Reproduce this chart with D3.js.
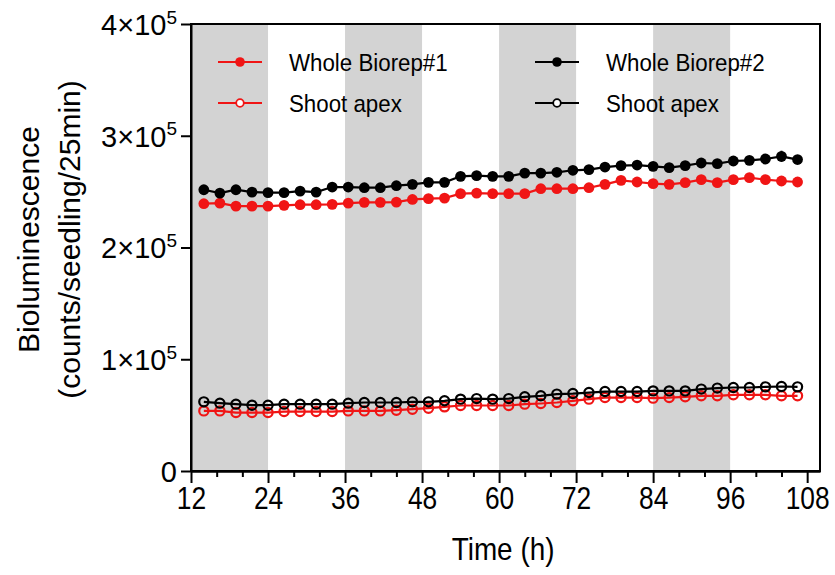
<!DOCTYPE html>
<meta charset="utf-8">
<style>
body { margin: 0; background: #fff; }
svg text { font-family: "Liberation Sans", Arial, sans-serif; fill: #000; }
.axis path, .axis line { stroke: #000; stroke-width: 2px; }
</style>
<body>
<script src="https://cdn.jsdelivr.net/npm/d3@7"></script>
<script>

// time points (h), one every 2.5 h
var times = d3.range(38).map(function(i) { return 14 + 2.5 * i; });

// whole seedling, biorep #1 (red, filled)
var whole1 = [239.2, 239.7, 237.0, 237.0, 237.0, 237.7, 238.3, 238.3, 238.6, 239.7,
              240.4, 240.4, 240.6, 243.0, 243.7, 244.2, 248.2, 248.7, 248.2, 248.2,
              248.2, 252.6, 252.6, 252.6, 253.5, 256.5, 260.1, 258.6, 257.1, 256.5,
              258.0, 260.7, 258.0, 260.7, 262.5, 260.7, 259.5, 258.6];
var whole1Err = [1, 1, 1, 1, 1, 1, 1, 1, 1, 1, 1.5, 1.5, 1.5, 1.5, 2, 2, 2, 2, 2, 2,
                 2.5, 3, 3, 3, 3, 3.5, 3.5, 3.5, 3, 3.5, 3.5, 4, 3.5, 4, 4, 4, 3.5, 3.5];

// whole seedling, biorep #2 (black, filled)
var whole2 = [251.7, 248.7, 251.7, 249.6, 249.1, 249.1, 250.5, 249.6, 254.1, 254.1,
              253.5, 253.5, 255.3, 256.5, 258.3, 258.3, 263.7, 264.3, 263.7, 263.7,
              266.6, 266.6, 267.3, 269.1, 269.7, 272.0, 273.3, 273.8, 272.6, 271.5,
              273.3, 275.6, 275.1, 277.4, 278.0, 279.2, 281.6, 278.7];
var whole2Err = [1, 1, 1, 1, 1, 1, 1, 1, 1, 1, 1, 1, 1.5, 1.5, 1.5, 1.5, 2, 2, 2, 2,
                 2, 2, 2, 2, 2.5, 2.5, 2.5, 3, 3, 3, 3, 3.5, 3.5, 3.5, 3.5, 4, 5, 4];

// shoot apex, biorep #1 (red, open)
var apex1 = [53.8, 53.8, 52.3, 52.3, 52.3, 53.2, 53.2, 53.2, 53.2, 53.8,
             53.8, 53.8, 54.4, 55.3, 56.2, 57.4, 58.6, 58.6, 58.6, 58.6,
             59.8, 60.4, 61.3, 62.8, 64.3, 65.7, 65.7, 65.7, 65.2, 65.7,
             66.4, 67.3, 67.3, 68.2, 68.2, 68.2, 67.3, 67.3];

// shoot apex, biorep #2 (black, open)
var apex2 = [61.9, 60.7, 59.8, 58.9, 58.9, 59.8, 59.8, 59.8, 59.8, 60.7,
             61.3, 61.3, 61.3, 61.9, 61.9, 62.8, 64.3, 64.8, 64.3, 64.8,
             66.4, 67.3, 68.8, 69.3, 70.2, 71.1, 71.1, 71.1, 71.7, 71.7,
             71.7, 73.3, 74.2, 74.7, 74.7, 75.3, 75.6, 75.3];

// dark periods (h)
var darkStart = [12, 36, 60, 84];
var darkLen = 12;

var xTicks = [12, 24, 36, 48, 60, 72, 84, 96, 108];
var yTicks = [0, 1, 2, 3, 4];   // ×10^5

var series = [
  {name: "Whole Biorep#1", values: whole1, err: whole1Err, color: "#f01515", filled: true},
  {name: "Whole Biorep#2", values: whole2, err: whole2Err, color: "#000", filled: true},
  {name: "Shoot apex", values: apex1, err: null, color: "#f01515", filled: false},
  {name: "Shoot apex", values: apex2, err: null, color: "#000", filled: false}
];

var margin = {top: 24, right: 15, bottom: 104, left: 191},
    width = 835 - margin.left - margin.right,
    height = 575 - margin.top - margin.bottom;

var x = d3.scaleLinear().domain([12, 110]).range([0, width]);
var y = d3.scaleLinear().domain([0, 400]).range([height, 0]);   // thousands

var svg = d3.select("body").append("svg")
    .attr("width", 835)
    .attr("height", 575)
  .append("g")
    .attr("transform", "translate(" + margin.left + "," + margin.top + ")");

// grey night bands
svg.selectAll(".dark")
    .data(darkStart)
  .enter().append("rect")
    .attr("x", function(d) { return x(d); })
    .attr("y", 0)
    .attr("width", function(d) { return x(d + darkLen) - x(d); })
    .attr("height", height)
    .attr("fill", "#d3d3d3");

var line = d3.line()
    .x(function(d, i) { return x(times[i]); })
    .y(function(d) { return y(d); });

series.forEach(function(s) {
  var g = svg.append("g");

  if (s.err) {
    g.selectAll(".err")
        .data(s.values)
      .enter().append("line")
        .attr("x1", function(d, i) { return x(times[i]); })
        .attr("x2", function(d, i) { return x(times[i]); })
        .attr("y1", function(d, i) { return y(d - s.err[i]); })
        .attr("y2", function(d, i) { return y(d + s.err[i]); })
        .attr("stroke", s.color)
        .attr("stroke-width", 2);
  }

  g.append("path")
      .datum(s.values)
      .attr("fill", "none")
      .attr("stroke", s.color)
      .attr("stroke-width", 2.2)
      .attr("d", line);

  g.selectAll("circle")
      .data(s.values)
    .enter().append("circle")
      .attr("cx", function(d, i) { return x(times[i]); })
      .attr("cy", function(d) { return y(d); })
      .attr("r", s.filled ? 5.4 : 4.6)
      .attr("fill", s.filled ? s.color : "none")
      .attr("stroke", s.color)
      .attr("stroke-width", s.filled ? 0 : 2.2);
});

// frame
svg.append("rect")
    .attr("width", width)
    .attr("height", height)
    .attr("fill", "none")
    .attr("stroke", "#000")
    .attr("stroke-width", 2);

// x axis: minor then major ticks
var minor = d3.range(12, 110, 4).filter(function(d) { return d % 12 != 0; });
svg.append("g")
    .attr("class", "axis")
    .attr("transform", "translate(0," + height + ")")
    .call(d3.axisBottom(x).tickValues(minor).tickSize(6).tickSizeOuter(0).tickFormat(""));

var xAxis = svg.append("g")
    .attr("class", "axis")
    .attr("transform", "translate(0," + height + ")")
    .call(d3.axisBottom(x).tickValues(xTicks).tickSize(12).tickSizeOuter(0).tickPadding(3));
xAxis.selectAll("text")
    .style("font-size", "31px")
    .attr("dy", "0.74em")
    .attr("transform", "scale(0.85,1)");

// y axis with 10^5 labels
var yAxis = svg.append("g")
    .attr("class", "axis")
    .call(d3.axisLeft(y).tickValues(yTicks.map(function(d) { return d * 100; }))
      .tickSize(10).tickSizeOuter(0).tickPadding(4));
yAxis.selectAll("text")
    .style("font-size", "29px")
    .attr("dy", "0.36em")
    .each(function(d) {
      var t = d3.select(this).text(null);
      if (d === 0) { t.text("0"); return; }
      t.append("tspan").text((d / 100) + "×10");
      t.append("tspan").attr("dy", "-0.6em").style("font-size", "19px").text("5");
    });

// axis titles
svg.append("text")
    .attr("transform", "translate(" + (x(60) + 4) + "," + (height + 89) + ") scale(0.9,1)")
    .attr("text-anchor", "middle")
    .style("font-size", "31px")
    .text("Time (h)");

var yTitle = svg.append("text")
    .attr("transform", "translate(" + (-152) + "," + (height / 2 - 8) + ") rotate(-90)")
    .attr("text-anchor", "middle")
    .style("font-size", "30px");
yTitle.append("tspan").attr("x", 0).attr("y", 0).text("Bioluminescence");
yTitle.append("tspan").attr("x", 0).attr("y", 41).text("(counts/seedling/25min)");

// legend
var legendPos = [
  {s: series[0], lx: 27, ly: 38},
  {s: series[2], lx: 27, ly: 79},
  {s: series[1], lx: 344, ly: 38},
  {s: series[3], lx: 344, ly: 79}
];

var legend = svg.append("g").attr("class", "legend");
legend.selectAll("g")
    .data(legendPos)
  .enter().append("g")
    .each(function(d) {
      var g = d3.select(this);
      g.append("line")
          .attr("x1", d.lx).attr("x2", d.lx + 44)
          .attr("y1", d.ly).attr("y2", d.ly)
          .attr("stroke", d.s.color)
          .attr("stroke-width", 2.2);
      g.append("circle")
          .attr("cx", d.lx + 22).attr("cy", d.ly)
          .attr("r", d.s.filled ? 4.8 : 3.8)
          .attr("fill", d.s.filled ? d.s.color : "#fff")
          .attr("stroke", d.s.color)
          .attr("stroke-width", d.s.filled ? 0 : 1.8);
      g.append("text")
          .attr("x", d.lx + 71)
          .attr("y", d.ly + 9)
          .style("font-size", "24px")
          .attr("transform", "translate(" + (d.lx + 71) + ",0) scale(0.93,1) translate(" + (-(d.lx + 71)) + ",0)")
          .text(d.s.name);
    });

</script>
</body>
